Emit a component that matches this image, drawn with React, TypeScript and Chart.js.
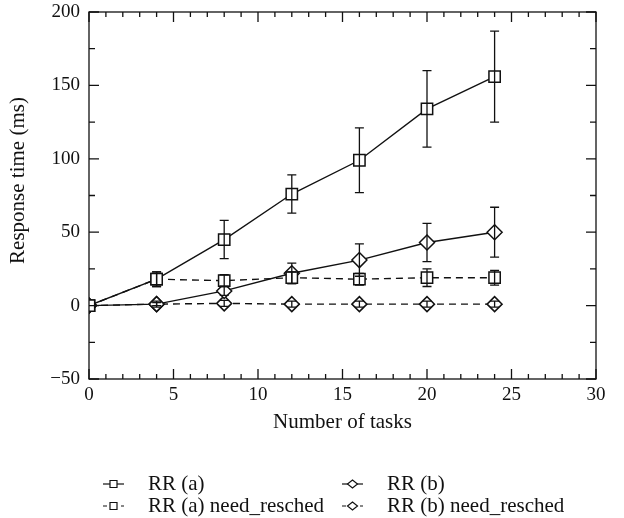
import React, { useEffect, useRef } from 'react';
import { Chart, registerables } from 'chart.js';

Chart.register(...registerables);

// ---- data ----
const taskCounts = [0, 4, 8, 12, 16, 20, 24];
const rrA = [0, 18, 45, 76, 99, 134, 156];
const rrAErr = [0, 5, 13, 13, 22, 26, 31];
const rrANeed = [0, 18, 17, 19, 18, 19, 19];
const rrANeedErr = [0, 5, 4, 4, 4, 6, 5];
const rrB = [0, 1, 10, 22, 31, 43, 50];
const rrBErr = [0, 1, 3, 7, 11, 13, 17];
const rrBNeed = [0, 1, 1.5, 1, 1, 1, 1];
const rrBNeedErr = [0, 2, 2, 2, 2, 2, 2];
const seriesLabels = ['RR (a)', 'RR (a) need_resched', 'RR (b)', 'RR (b) need_resched'];
const xRange = [0, 30];
const yRange = [-50, 200];
const xTitle = 'Number of tasks';
const yTitle = 'Response time (ms)';

const FONT = "'Liberation Serif', 'Times New Roman', serif";
const INK = '#111';

const toPoints = (vals: number[]) => vals.map((v, i) => ({ x: taskCounts[i], y: v }));

const boxTicks = {
  id: 'boxTicks',
  afterDraw(chart: any) {
    const { ctx, chartArea: a, scales } = chart;
    const x = scales.x;
    const y = scales.y;
    ctx.save();
    ctx.strokeStyle = INK;
    ctx.lineWidth = 1.3;
    ctx.strokeRect(a.left, a.top, a.right - a.left, a.bottom - a.top);
    ctx.beginPath();
    for (let v = xRange[0]; v <= xRange[1]; v += 1) {
      const px = x.getPixelForValue(v);
      const len = v % 5 === 0 ? 10 : 5;
      ctx.moveTo(px, a.bottom);
      ctx.lineTo(px, a.bottom - len);
      ctx.moveTo(px, a.top);
      ctx.lineTo(px, a.top + len);
    }
    for (let v = yRange[0]; v <= yRange[1]; v += 25) {
      const py = y.getPixelForValue(v);
      const len = v % 50 === 0 ? 10 : 6;
      ctx.moveTo(a.left, py);
      ctx.lineTo(a.left + len, py);
      ctx.moveTo(a.right, py);
      ctx.lineTo(a.right - len, py);
    }
    ctx.stroke();
    ctx.restore();
  },
};

const yAxisTitle = {
  id: 'yAxisTitle',
  afterDraw(chart: any) {
    const { ctx, chartArea: a } = chart;
    ctx.save();
    ctx.translate(18, (a.top + a.bottom) / 2 - 15);
    ctx.rotate(-Math.PI / 2);
    ctx.font = `21px ${FONT}`;
    ctx.fillStyle = INK;
    ctx.textAlign = 'center';
    ctx.textBaseline = 'middle';
    ctx.fillText(yTitle, 0, 0);
    ctx.restore();
  },
};

const errorBars = {
  id: 'errorBars',
  afterDatasetsDraw(chart: any) {
    const { ctx, scales } = chart;
    const x = scales.x;
    const y = scales.y;
    ctx.save();
    ctx.strokeStyle = INK;
    ctx.lineWidth = 1.3;
    ctx.setLineDash([]);
    chart.data.datasets.forEach((ds: any) => {
      const errs: number[] = ds.errors || [];
      ds.data.forEach((p: any, j: number) => {
        const e = errs[j];
        if (!e) return;
        const px = x.getPixelForValue(p.x);
        const top = y.getPixelForValue(p.y + e);
        const bot = y.getPixelForValue(p.y - e);
        ctx.beginPath();
        ctx.moveTo(px, top);
        ctx.lineTo(px, bot);
        ctx.moveTo(px - 4.5, top);
        ctx.lineTo(px + 4.5, top);
        ctx.moveTo(px - 4.5, bot);
        ctx.lineTo(px + 4.5, bot);
        ctx.stroke();
      });
    });
    ctx.restore();
  },
};

const customLegend = {
  id: 'customLegend',
  afterDraw(chart: any) {
    const { ctx } = chart;
    const cols = [103, 342];
    const rows = [484, 506];
    ctx.save();
    ctx.font = `21px ${FONT}`;
    ctx.textBaseline = 'middle';
    ctx.textAlign = 'left';
    chart.data.datasets.forEach((ds: any, i: number) => {
      const cx = cols[Math.floor(i / 2)];
      const cy = rows[i % 2];
      ctx.strokeStyle = INK;
      ctx.lineWidth = 1.2;
      ctx.setLineDash(ds.borderDash && ds.borderDash.length ? [4, 5] : []);
      ctx.beginPath();
      ctx.moveTo(cx, cy);
      ctx.lineTo(cx + 21, cy);
      ctx.stroke();
      ctx.setLineDash([]);
      const mx = cx + 10.5;
      ctx.fillStyle = '#fff';
      ctx.beginPath();
      if (ds.pointStyle === 'rect') {
        ctx.rect(mx - 3.5, cy - 3.5, 7, 7);
      } else {
        ctx.moveTo(mx - 5, cy);
        ctx.lineTo(mx, cy - 4);
        ctx.lineTo(mx + 5, cy);
        ctx.lineTo(mx, cy + 4);
        ctx.closePath();
      }
      ctx.fill();
      ctx.stroke();
      ctx.fillStyle = INK;
      ctx.fillText(ds.label, cx + 45, cy);
    });
    ctx.restore();
  },
};

function makeDataset(label: string, vals: number[], errs: number[], square: boolean, dashed: boolean) {
  return {
    label,
    data: toPoints(vals),
    errors: errs,
    borderColor: INK,
    backgroundColor: '#fff',
    borderWidth: 1.4,
    borderDash: dashed ? [7, 5] : [],
    pointStyle: square ? 'rect' : 'rectRot',
    pointRadius: square ? 8 : 7.5,
    pointBorderWidth: 1.5,
    pointBackgroundColor: '#fff',
    pointBorderColor: INK,
    tension: 0,
    fill: false,
  };
}

export default function App() {
  const ref = useRef<HTMLCanvasElement | null>(null);
  useEffect(() => {
    if (!ref.current) return;
    const chart = new Chart(ref.current, {
      type: 'line',
      data: {
        datasets: [
          makeDataset(seriesLabels[0], rrA, rrAErr, true, false),
          makeDataset(seriesLabels[1], rrANeed, rrANeedErr, true, true),
          makeDataset(seriesLabels[2], rrB, rrBErr, false, false),
          makeDataset(seriesLabels[3], rrBNeed, rrBNeedErr, false, true),
        ] as any,
      },
      options: {
        responsive: false,
        animation: false,
        devicePixelRatio: 1,
        layout: { autoPadding: false, padding: { left: 0, right: 28, top: 12, bottom: 83 } },
        plugins: { legend: { display: false }, tooltip: { enabled: false } },
        scales: {
          x: {
            type: 'linear',
            min: xRange[0],
            max: xRange[1],
            grid: { display: false, drawTicks: false },
            border: { display: false },
            ticks: { stepSize: 5, padding: 5, color: INK, font: { family: FONT, size: 19 } },
            title: { display: true, text: xTitle, color: INK, font: { family: FONT, size: 21 }, padding: { top: 0, bottom: 0 } },
            afterFit: (s: any) => { s.height = 56; s.paddingLeft = 0; s.paddingRight = 0; },
          },
          y: {
            min: yRange[0],
            max: yRange[1],
            grid: { display: false, drawTicks: false },
            border: { display: false },
            ticks: {
              stepSize: 50,
              padding: 9,
              color: INK,
              font: { family: FONT, size: 19 },
              callback: (v: any) => (Number(v) < 0 ? '\u2212' + Math.abs(Number(v)) : String(v)),
            },
            title: { display: false },
            afterFit: (s: any) => { s.width = 89; s.paddingTop = 0; s.paddingBottom = 0; },
          },
        },
      } as any,
      plugins: [errorBars, boxTicks, yAxisTitle, customLegend],
    });
    return () => chart.destroy();
  }, []);
  return (
    <div style={{ position: 'fixed', left: 0, top: 0, width: 624, height: 518, background: '#fff' }}>
      <canvas ref={ref} width={624} height={518} style={{ display: 'block' }} />
    </div>
  );
}
